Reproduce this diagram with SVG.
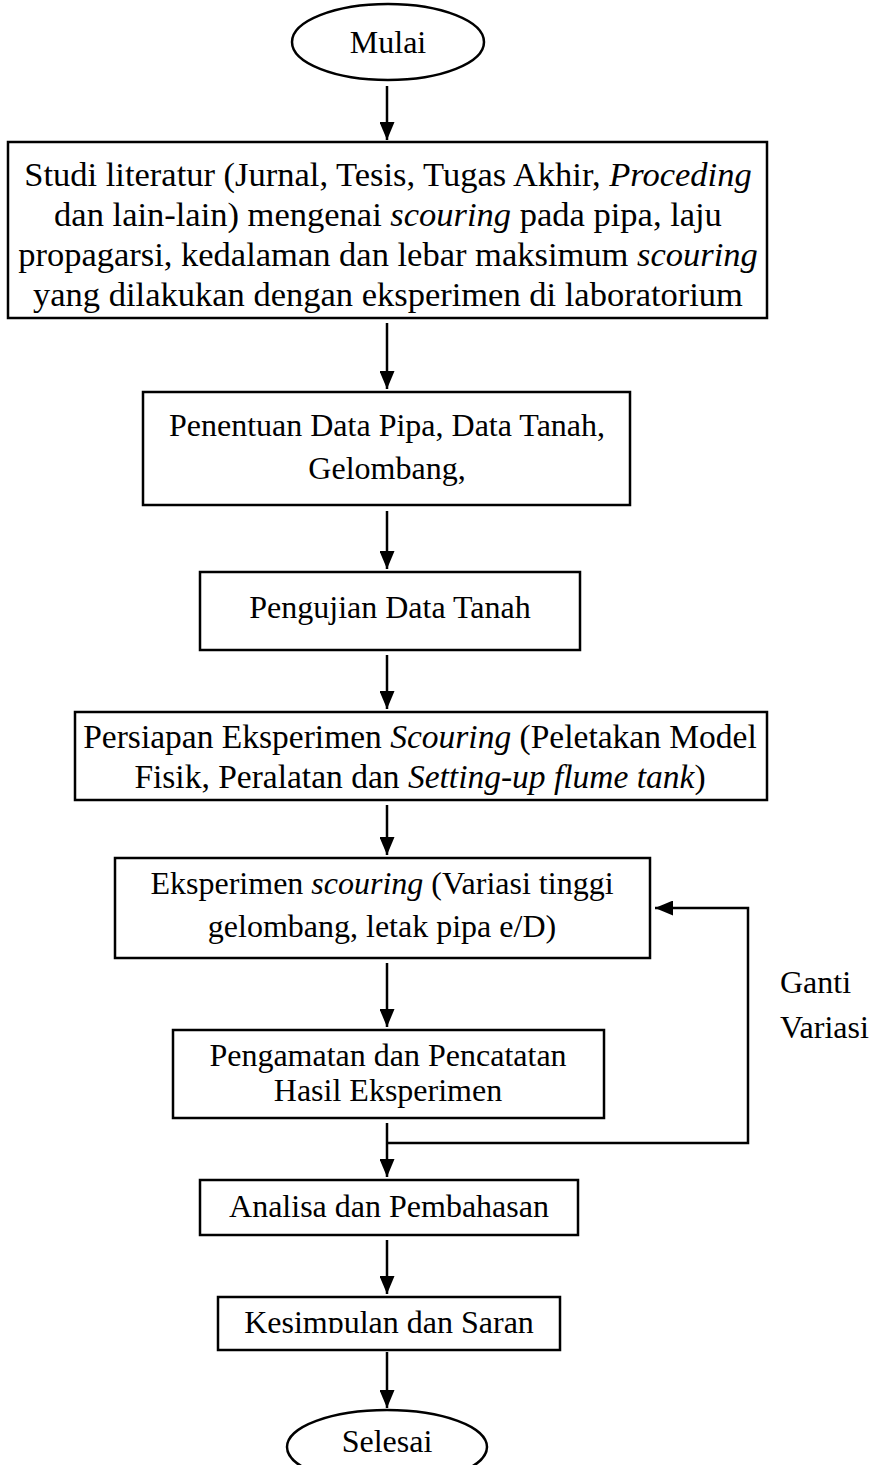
<svg xmlns="http://www.w3.org/2000/svg" width="873" height="1465" viewBox="0 0 873 1465">
<style>
.box{fill:#fff;stroke:#000;stroke-width:2.5}
.t{font-family:"Liberation Serif","Times New Roman",serif;font-size:32px;fill:#000;text-anchor:middle}
.big{font-size:34.5px}
.mid{font-size:33.5px}
.l{font-family:"Liberation Serif","Times New Roman",serif;font-size:32px;fill:#000}
.i{font-style:italic}
.c{fill:none;stroke:#000;stroke-width:2.5}
</style>
<defs>
<marker id="ah" viewBox="0 0 18 15" refX="18" refY="7.5" markerWidth="18" markerHeight="15" markerUnits="userSpaceOnUse" orient="auto">
<path d="M0,0 L18,7.5 L0,15 z" fill="#000"/>
</marker>
<clipPath id="kclip"><rect x="0" y="1290" width="873" height="43"/></clipPath>
</defs>
<rect width="873" height="1465" fill="#fff"/>
<g id="connectors">
<line class="c" x1="387" y1="86" x2="387" y2="140" marker-end="url(#ah)"/>
<line class="c" x1="387" y1="323" x2="387" y2="389" marker-end="url(#ah)"/>
<line class="c" x1="387" y1="511" x2="387" y2="569" marker-end="url(#ah)"/>
<line class="c" x1="387" y1="655" x2="387" y2="709" marker-end="url(#ah)"/>
<line class="c" x1="387" y1="805" x2="387" y2="855" marker-end="url(#ah)"/>
<line class="c" x1="387" y1="963" x2="387" y2="1027" marker-end="url(#ah)"/>
<line class="c" x1="387" y1="1123" x2="387" y2="1177" marker-end="url(#ah)"/>
<polyline class="c" points="387,1143 748,1143 748,908 655,908" marker-end="url(#ah)"/>
<line class="c" x1="387" y1="1240" x2="387" y2="1294" marker-end="url(#ah)"/>
<line class="c" x1="387" y1="1352" x2="387" y2="1408" marker-end="url(#ah)"/>
</g>
<g id="mulai">
<ellipse class="box" cx="388" cy="42" rx="96" ry="38"/>
<text class="t" x="388" y="53">Mulai</text>
</g>
<g id="studi">
<rect class="box" x="8" y="142" width="759" height="176"/>
<text class="t big" x="388" y="186">Studi literatur (Jurnal, Tesis, Tugas Akhir, <tspan class="i">Proceding</tspan></text>
<text class="t big" x="388" y="226">dan lain-lain) mengenai <tspan class="i">scouring</tspan> pada pipa, laju</text>
<text class="t big" x="388" y="266">propagarsi, kedalaman dan lebar maksimum <tspan class="i">scouring</tspan></text>
<text class="t big" x="388" y="306">yang dilakukan dengan eksperimen di laboratorium</text>
</g>
<g id="penentuan">
<rect class="box" x="143" y="392" width="487" height="113"/>
<text class="t" x="387" y="436">Penentuan Data Pipa, Data Tanah,</text>
<text class="t" x="387" y="479">Gelombang,</text>
</g>
<g id="pengujian">
<rect class="box" x="200" y="572" width="380" height="78"/>
<text class="t" x="390" y="618">Pengujian Data Tanah</text>
</g>
<g id="persiapan">
<rect class="box" x="75" y="712" width="692" height="88"/>
<text class="t mid" x="420" y="748">Persiapan Eksperimen <tspan class="i">Scouring</tspan> (Peletakan Model</text>
<text class="t mid" x="420" y="788">Fisik, Peralatan dan <tspan class="i">Setting-up flume tank</tspan>)</text>
</g>
<g id="eksperimen">
<rect class="box" x="115" y="858" width="535" height="100"/>
<text class="t" x="382" y="894">Eksperimen <tspan class="i">scouring</tspan> (Variasi tinggi</text>
<text class="t" x="382" y="937">gelombang, letak pipa e/D)</text>
</g>
<g id="pengamatan">
<rect class="box" x="173" y="1030" width="431" height="88"/>
<text class="t" x="388" y="1066">Pengamatan dan Pencatatan</text>
<text class="t" x="388" y="1101">Hasil Eksperimen</text>
</g>
<g id="ganti">
<text class="l" x="780" y="993">Ganti</text>
<text class="l" x="780" y="1038">Variasi</text>
</g>
<g id="analisa">
<rect class="box" x="200" y="1180" width="378" height="55"/>
<text class="t" x="389" y="1217">Analisa dan Pembahasan</text>
</g>
<g id="kesimpulan">
<rect class="box" x="218" y="1297" width="342" height="53"/>
<text class="t" x="389" y="1333" clip-path="url(#kclip)">Kesimpulan dan Saran</text>
</g>
<g id="selesai">
<ellipse class="box" cx="387" cy="1447" rx="100" ry="37"/>
<text class="t" x="387" y="1452">Selesai</text>
</g>
</svg>
